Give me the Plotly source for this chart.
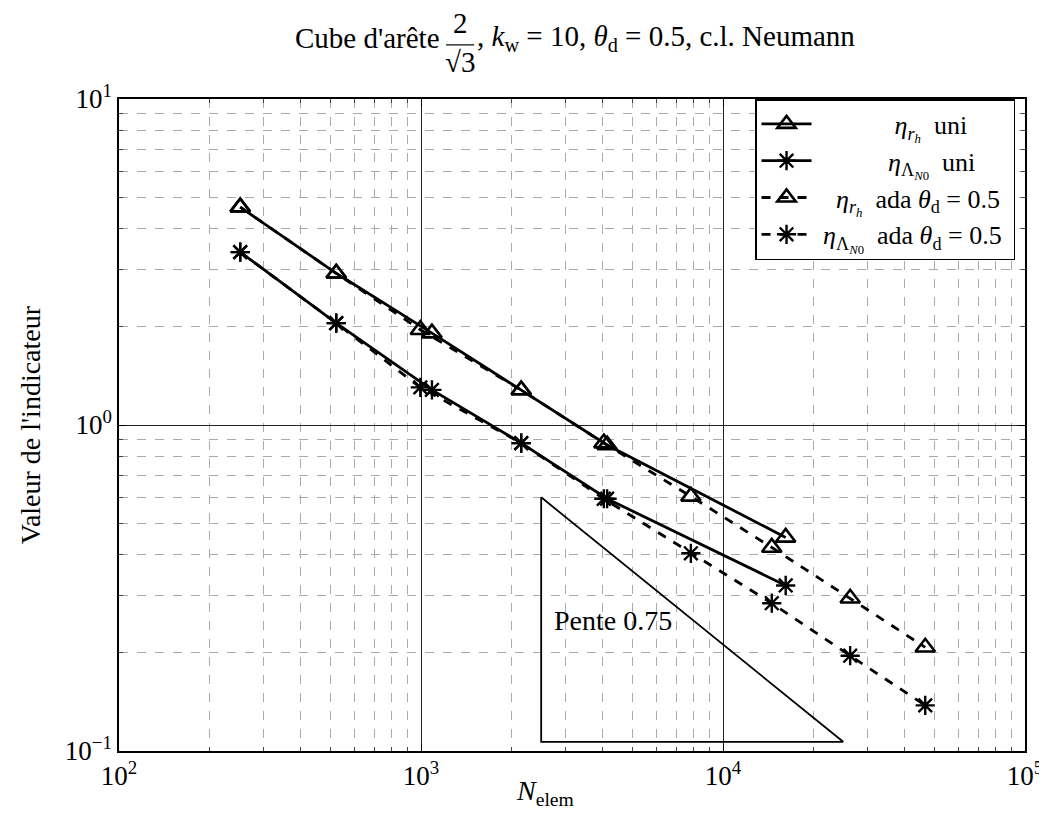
import plotly.graph_objects as go

# values (log-log)
N_uni = [252, 524, 1087, 2147, 4133, 16127]
eta_r_uni = [4.66, 2.92, 1.914, 1.28, 0.868, 0.452]
eta_L_uni = [3.39, 2.054, 1.282, 0.88, 0.594, 0.322]

N_ada = [252, 524, 995, 2147, 4031, 7827, 14505, 26370, 46740]
eta_r_ada = [4.66, 2.92, 1.96, 1.28, 0.880, 0.604, 0.421, 0.294, 0.208]
eta_L_ada = [3.39, 2.054, 1.304, 0.88, 0.594, 0.404, 0.284, 0.196, 0.138]

# slope triangle (pente 0.75)
slope_x = [2500, 2500, 25000, 2500]
slope_y = [0.6, 0.1067, 0.1067, 0.6]

x_tickvals = [1e2, 1e3, 1e4, 1e5]
x_ticktext = ['10<sup>2</sup>', '10<sup>3</sup>', '10<sup>4</sup>', '10<sup>5</sup>']
y_tickvals = [1e-1, 1e0, 1e1]
y_ticktext = ['10<sup>−1</sup>', '10<sup>0</sup>', '10<sup>1</sup>']

FONT = 'Liberation Serif'
S = '\u00a0'  # padding so the legend texts look centred

tri = dict(symbol='triangle-up-open', size=17, color='black', line=dict(width=2.6, color='black'))
ast = dict(symbol='asterisk-open', size=16, color='black', line=dict(width=2.4, color='black'))

fig = go.Figure()

fig.add_trace(go.Scatter(x=slope_x, y=slope_y, mode='lines', line=dict(color='black', width=1.8),
                         showlegend=False, hoverinfo='skip'))

fig.add_trace(go.Scatter(x=N_uni, y=eta_r_uni, mode='lines+markers', marker=tri,
                         line=dict(color='black', width=2.8),
                         name=S * 12 + '<i>η</i><sub><i>r</i><sub><i>h</i></sub></sub>' + S * 2 + 'uni'))
fig.add_trace(go.Scatter(x=N_uni, y=eta_L_uni, mode='lines+markers', marker=ast,
                         line=dict(color='black', width=2.8),
                         name=S * 11 + '<i>η</i><sub>Λ<sub><i>N</i>0</sub></sub>' + S * 2 + 'uni'))
fig.add_trace(go.Scatter(x=N_ada, y=eta_r_ada, mode='lines+markers', marker=tri,
                         line=dict(color='black', width=2.8, dash='dash'),
                         name=S * 3 + '<i>η</i><sub><i>r</i><sub><i>h</i></sub></sub>' + S * 2
                              + 'ada ' + '<i>θ</i><sub>d</sub> = 0.5'))
fig.add_trace(go.Scatter(x=N_ada, y=eta_L_ada, mode='lines+markers', marker=ast,
                         line=dict(color='black', width=2.8, dash='dash'),
                         name=S + '<i>η</i><sub>Λ<sub><i>N</i>0</sub></sub>' + S * 2
                              + 'ada ' + '<i>θ</i><sub>d</sub> = 0.5' + S))

fig.add_annotation(x=3.435, y=-0.60, xref='x', yref='y', text='Pente 0.75', showarrow=False,
                   xanchor='left', font=dict(size=28, color='black', family=FONT))

# title pieces (with a stacked fraction)
TS = 29
fig.add_annotation(x=0.356, y=1.094, xref='paper', yref='paper', text="Cube d'arête", showarrow=False,
                   xanchor='right', yanchor='middle', font=dict(size=TS, color='black', family=FONT))
fig.add_annotation(x=0.3767, y=1.116, xref='paper', yref='paper', text='2', showarrow=False,
                   xanchor='center', yanchor='middle', font=dict(size=TS, color='black', family=FONT))
fig.add_annotation(x=0.3767, y=1.056, xref='paper', yref='paper', text='√3', showarrow=False,
                   xanchor='center', yanchor='middle', font=dict(size=TS, color='black', family=FONT))
fig.add_shape(type='line', xref='paper', yref='paper', x0=0.361, x1=0.392, y0=1.083, y1=1.083,
              line=dict(color='black', width=1.2))
fig.add_annotation(x=0.393, y=1.094, xref='paper', yref='paper',
                   text=', <i>k</i><sub>w</sub> = 10, <i>θ</i><sub>d</sub> = 0.5, c.l. Neumann',
                   showarrow=False, xanchor='left', yanchor='middle',
                   font=dict(size=TS, color='black', family=FONT))

# axis titles
fig.add_annotation(x=0.470, y=-0.064, xref='paper', yref='paper', text='<i>N</i><sub>elem</sub>',
                   showarrow=False, xanchor='center', yanchor='middle',
                   font=dict(size=28, color='black', family=FONT))
fig.add_annotation(x=-0.098, y=0.5, xref='paper', yref='paper', text="Valeur de l'indicateur",
                   showarrow=False, textangle=-90, xanchor='center', yanchor='middle',
                   font=dict(size=28, color='black', family=FONT))

axis_common = dict(
    type='log', showline=True, linecolor='black', linewidth=1.5, mirror='allticks',
    ticks='inside', ticklen=7, tickcolor='black', tickwidth=1,
    showgrid=True, gridcolor='#222222', gridwidth=1, zeroline=False,
    tickfont=dict(size=27, color='black', family=FONT),
    minor=dict(ticks='inside', ticklen=4, tickcolor='#444444', dtick='D1',
               showgrid=True, gridcolor='#aaaaaa', griddash='dash', gridwidth=1),
)

fig.update_xaxes(range=[2, 5], tickvals=x_tickvals, ticktext=x_ticktext, **axis_common)
fig.update_yaxes(range=[-1, 1], tickvals=y_tickvals, ticktext=y_ticktext, **axis_common)

fig.update_layout(
    width=1047, height=816,
    paper_bgcolor='white', plot_bgcolor='white',
    margin=dict(l=111, r=23, t=91, b=73),
    font=dict(family=FONT, color='black'),
    legend=dict(x=0.989, y=1.0, xanchor='right', yanchor='top', bgcolor='white',
                bordercolor='black', borderwidth=1.5, font=dict(size=26, family=FONT, color='black'),
                tracegroupgap=0, itemwidth=50),
)

fig.write_html('out.html')
